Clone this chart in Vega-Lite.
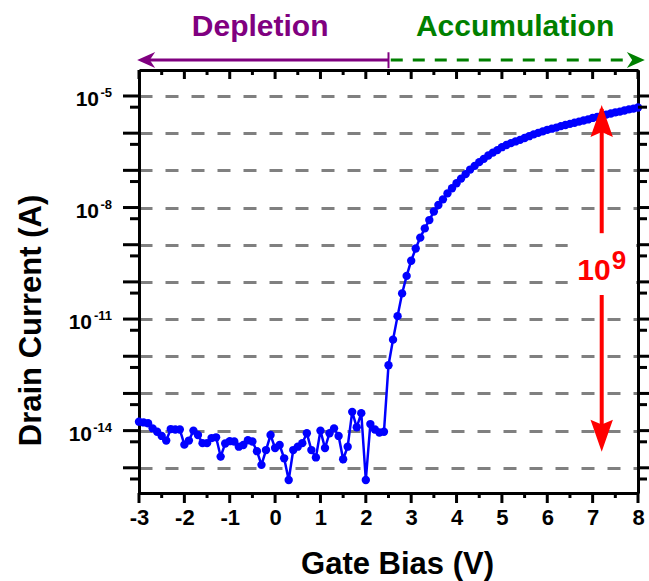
{
  "$schema": "https://vega.github.io/schema/vega-lite/v6.json",
  "width": 499,
  "height": 423,
  "autosize": {"type": "none"},
  "padding": {"left": 139, "top": 70, "right": 11, "bottom": 88},
  "background": "white",
  "config": {
    "view": {"stroke": null},
    "font": "Liberation Sans",
    "axis": {
      "domainColor": "black",
      "domainWidth": 3,
      "ticks": false,
      "labelFont": "Liberation Sans",
      "labelFontWeight": "bold",
      "labelColor": "black",
      "titleFont": "Liberation Sans",
      "titleFontWeight": "bold",
      "titleColor": "black"
    }
  },
  "datasets": {
    "iv": [
      {"v": -3.0, "i": 1.74e-14}, {"v": -2.9, "i": 1.66e-14}, {"v": -2.8, "i": 1.58e-14},
      {"v": -2.7, "i": 1.15e-14}, {"v": -2.6, "i": 9.3e-15}, {"v": -2.5, "i": 7.2e-15},
      {"v": -2.4, "i": 5.4e-15}, {"v": -2.3, "i": 1.10e-14}, {"v": -2.2, "i": 1.07e-14},
      {"v": -2.1, "i": 1.07e-14}, {"v": -2.0, "i": 4.2e-15}, {"v": -1.9, "i": 5.4e-15},
      {"v": -1.8, "i": 1.0e-14}, {"v": -1.7, "i": 7.6e-15}, {"v": -1.6, "i": 4.6e-15},
      {"v": -1.5, "i": 4.6e-15}, {"v": -1.4, "i": 6.3e-15}, {"v": -1.3, "i": 6.6e-15},
      {"v": -1.2, "i": 2.0e-15}, {"v": -1.1, "i": 4.5e-15}, {"v": -1.0, "i": 5.2e-15},
      {"v": -0.9, "i": 5.1e-15}, {"v": -0.8, "i": 3.7e-15}, {"v": -0.7, "i": 4.1e-15},
      {"v": -0.6, "i": 5.5e-15}, {"v": -0.5, "i": 5.1e-15}, {"v": -0.4, "i": 2.8e-15},
      {"v": -0.3, "i": 1.2e-15}, {"v": -0.2, "i": 3.0e-15}, {"v": -0.1, "i": 7.6e-15},
      {"v": 0.0, "i": 3.4e-15}, {"v": 0.1, "i": 4.1e-15}, {"v": 0.2, "i": 1.8e-15},
      {"v": 0.3, "i": 4.7e-16}, {"v": 0.4, "i": 3.0e-15}, {"v": 0.5, "i": 3.7e-15},
      {"v": 0.6, "i": 4.6e-15}, {"v": 0.7, "i": 8.5e-15}, {"v": 0.8, "i": 3.0e-15},
      {"v": 0.9, "i": 1.9e-15}, {"v": 1.0, "i": 1.0e-14}, {"v": 1.1, "i": 3.4e-15},
      {"v": 1.2, "i": 8.5e-15}, {"v": 1.3, "i": 1.15e-14}, {"v": 1.4, "i": 7.2e-15},
      {"v": 1.5, "i": 1.7e-15}, {"v": 1.6, "i": 3.7e-15}, {"v": 1.7, "i": 3.2e-14},
      {"v": 1.8, "i": 1.23e-14}, {"v": 1.9, "i": 2.95e-14}, {"v": 2.0, "i": 4.7e-16},
      {"v": 2.1, "i": 1.5e-14}, {"v": 2.2, "i": 1.07e-14}, {"v": 2.3, "i": 8.9e-15},
      {"v": 2.4, "i": 9.3e-15}, {"v": 2.5, "i": 5.75e-13}, {"v": 2.6, "i": 2.8e-12},
      {"v": 2.7, "i": 1.2e-11}, {"v": 2.8, "i": 4.9e-11}, {"v": 2.9, "i": 1.45e-10},
      {"v": 3.0, "i": 3.7e-10}, {"v": 3.1, "i": 7.9e-10}, {"v": 3.2, "i": 1.55e-9},
      {"v": 3.3, "i": 2.75e-9}, {"v": 3.4, "i": 4.6e-9}, {"v": 3.5, "i": 7.8e-9},
      {"v": 3.6, "i": 1.17e-8}, {"v": 3.7, "i": 1.66e-8}, {"v": 3.8, "i": 2.4e-8},
      {"v": 3.9, "i": 3.3e-8}, {"v": 4.0, "i": 4.5e-8}, {"v": 4.1, "i": 6.0e-8},
      {"v": 4.2, "i": 7.9e-8}, {"v": 4.3, "i": 1.05e-7}, {"v": 4.4, "i": 1.32e-7},
      {"v": 4.5, "i": 1.66e-7}, {"v": 4.6, "i": 2.04e-7}, {"v": 4.7, "i": 2.5e-7},
      {"v": 4.8, "i": 3.0e-7}, {"v": 4.9, "i": 3.5e-7}, {"v": 5.0, "i": 4.2e-7},
      {"v": 5.1, "i": 4.8e-7}, {"v": 5.2, "i": 5.4e-7}, {"v": 5.3, "i": 6.0e-7},
      {"v": 5.4, "i": 6.6e-7}, {"v": 5.5, "i": 7.4e-7}, {"v": 5.6, "i": 8.3e-7},
      {"v": 5.7, "i": 9.3e-7}, {"v": 5.8, "i": 1.02e-6}, {"v": 5.9, "i": 1.12e-6},
      {"v": 6.0, "i": 1.23e-6}, {"v": 6.1, "i": 1.32e-6}, {"v": 6.2, "i": 1.41e-6},
      {"v": 6.3, "i": 1.55e-6}, {"v": 6.4, "i": 1.66e-6}, {"v": 6.5, "i": 1.78e-6},
      {"v": 6.6, "i": 1.91e-6}, {"v": 6.7, "i": 2.04e-6}, {"v": 6.8, "i": 2.19e-6},
      {"v": 6.9, "i": 2.34e-6}, {"v": 7.0, "i": 2.57e-6}, {"v": 7.1, "i": 2.75e-6},
      {"v": 7.2, "i": 2.95e-6}, {"v": 7.3, "i": 3.16e-6}, {"v": 7.4, "i": 3.39e-6},
      {"v": 7.5, "i": 3.63e-6}, {"v": 7.6, "i": 3.8e-6}, {"v": 7.7, "i": 4.07e-6},
      {"v": 7.8, "i": 4.37e-6}, {"v": 7.9, "i": 4.57e-6}, {"v": 8.0, "i": 4.9e-6}
    ],
    "ylabels": [
      {"i": 1e-5, "e": "-5"},
      {"i": 1e-8, "e": "-8"},
      {"i": 1e-11, "e": "-11"},
      {"i": 1e-14, "e": "-14"}
    ],
    "xt": [
      {"v": -3, "kind": "major", "lo": 2.1e-16, "hi": 5e-5}, {"v": -2.5, "kind": "minor", "lo": 2.1e-16, "hi": 5e-5},
      {"v": -2, "kind": "major", "lo": 2.1e-16, "hi": 5e-5}, {"v": -1.5, "kind": "minor", "lo": 2.1e-16, "hi": 5e-5},
      {"v": -1, "kind": "major", "lo": 2.1e-16, "hi": 5e-5}, {"v": -0.5, "kind": "minor", "lo": 2.1e-16, "hi": 5e-5},
      {"v": 0, "kind": "major", "lo": 2.1e-16, "hi": 5e-5}, {"v": 0.5, "kind": "minor", "lo": 2.1e-16, "hi": 5e-5},
      {"v": 1, "kind": "major", "lo": 2.1e-16, "hi": 5e-5}, {"v": 1.5, "kind": "minor", "lo": 2.1e-16, "hi": 5e-5},
      {"v": 2, "kind": "major", "lo": 2.1e-16, "hi": 5e-5}, {"v": 2.5, "kind": "minor", "lo": 2.1e-16, "hi": 5e-5},
      {"v": 3, "kind": "major", "lo": 2.1e-16, "hi": 5e-5}, {"v": 3.5, "kind": "minor", "lo": 2.1e-16, "hi": 5e-5},
      {"v": 4, "kind": "major", "lo": 2.1e-16, "hi": 5e-5}, {"v": 4.5, "kind": "minor", "lo": 2.1e-16, "hi": 5e-5},
      {"v": 5, "kind": "major", "lo": 2.1e-16, "hi": 5e-5}, {"v": 5.5, "kind": "minor", "lo": 2.1e-16, "hi": 5e-5},
      {"v": 6, "kind": "major", "lo": 2.1e-16, "hi": 5e-5}, {"v": 6.5, "kind": "minor", "lo": 2.1e-16, "hi": 5e-5},
      {"v": 7, "kind": "major", "lo": 2.1e-16, "hi": 5e-5}, {"v": 7.5, "kind": "minor", "lo": 2.1e-16, "hi": 5e-5},
      {"v": 8, "kind": "major", "lo": 2.1e-16, "hi": 5e-5}
    ],
    "yt": [
      {"i": 5e-16, "kind": "minor", "left": -3, "right": 8}, {"i": 1e-15, "kind": "major", "left": -3, "right": 8},
      {"i": 5e-15, "kind": "minor", "left": -3, "right": 8}, {"i": 1e-14, "kind": "major", "left": -3, "right": 8},
      {"i": 5e-14, "kind": "minor", "left": -3, "right": 8}, {"i": 1e-13, "kind": "major", "left": -3, "right": 8},
      {"i": 5e-13, "kind": "minor", "left": -3, "right": 8}, {"i": 1e-12, "kind": "major", "left": -3, "right": 8},
      {"i": 5e-12, "kind": "minor", "left": -3, "right": 8}, {"i": 1e-11, "kind": "major", "left": -3, "right": 8},
      {"i": 5e-11, "kind": "minor", "left": -3, "right": 8}, {"i": 1e-10, "kind": "major", "left": -3, "right": 8},
      {"i": 5e-10, "kind": "minor", "left": -3, "right": 8}, {"i": 1e-9, "kind": "major", "left": -3, "right": 8},
      {"i": 5e-9, "kind": "minor", "left": -3, "right": 8}, {"i": 1e-8, "kind": "major", "left": -3, "right": 8},
      {"i": 5e-8, "kind": "minor", "left": -3, "right": 8}, {"i": 1e-7, "kind": "major", "left": -3, "right": 8},
      {"i": 5e-7, "kind": "minor", "left": -3, "right": 8}, {"i": 1e-6, "kind": "major", "left": -3, "right": 8},
      {"i": 5e-6, "kind": "minor", "left": -3, "right": 8}, {"i": 1e-5, "kind": "major", "left": -3, "right": 8}
    ]
  },
  "resolve": {"axis": {"x": "independent", "y": "independent"}},
  "layer": [
    {
      "data": {"name": "iv"},
      "mark": {"type": "line", "color": "#0000FF", "strokeWidth": 2.5},
      "encoding": {
        "x": {
          "field": "v", "type": "quantitative",
          "scale": {"domain": [-3, 8], "nice": false, "zero": false},
          "axis": {
            "orient": "bottom",
            "title": "Gate Bias (V)",
            "titleFontSize": 31,
            "titleX": 258,
            "titleY": 80,
            "titleBaseline": "alphabetic",
            "titleAnchor": null,
            "titleAlign": "center",
            "values": [-3, -2, -1, 0, 1, 2, 3, 4, 5, 6, 7, 8],
            "labelExpr": "'' + datum.value",
            "labelFontSize": 22,
            "labelPadding": 14,
            "labelFlush": false,
            "labelOverlap": false,
            "grid": false
          }
        },
        "y": {
          "field": "i", "type": "quantitative",
          "scale": {"type": "log", "domain": [2.1e-16, 5e-5], "nice": false},
          "axis": {
            "orient": "left",
            "title": "Drain Current (A)",
            "titleFontSize": 31,
            "titleAngle": 270,
            "titleX": -99,
            "titleY": 250,
            "titleAlign": "center",
            "titleAnchor": null,
            "titleBaseline": "alphabetic",
            "values": [1e-15, 1e-14, 1e-13, 1e-12, 1e-11, 1e-10, 1e-9, 1e-8, 1e-7, 1e-6, 1e-5],
            "labels": false,
            "grid": true,
            "gridColor": "#808080",
            "gridWidth": 3,
            "gridDash": [13, 13]
          }
        }
      }
    },
    {
      "data": {"name": "iv"},
      "mark": {"type": "point", "filled": true, "color": "#0000FF", "size": 70, "opacity": 1},
      "encoding": {
        "x": {
          "field": "v", "type": "quantitative",
          "axis": {"orient": "top", "title": null, "labels": false, "grid": false, "values": [-3, 8]}
        },
        "y": {
          "field": "i", "type": "quantitative",
          "axis": {"orient": "right", "title": null, "labels": false, "grid": false, "values": [1e-15, 1e-5]}
        }
      }
    },
    {
      "data": {"name": "xt"},
      "transform": [{"filter": "datum.kind == 'major'"}],
      "mark": {"type": "point", "filled": true, "opacity": 1, "color": "black", "size": 400, "shape": "M-0.15,0 L0.15,0 L0.15,1 L-0.15,1 Z"},
      "encoding": {
        "x": {"field": "v", "type": "quantitative", "axis": null},
        "y": {"field": "lo", "type": "quantitative", "axis": null}
      }
    },
    {
      "data": {"name": "xt"},
      "transform": [{"filter": "datum.kind == 'minor'"}],
      "mark": {"type": "point", "filled": true, "opacity": 1, "color": "black", "size": 100, "shape": "M-0.3,0 L0.3,0 L0.3,1 L-0.3,1 Z"},
      "encoding": {
        "x": {"field": "v", "type": "quantitative", "axis": null},
        "y": {"field": "lo", "type": "quantitative", "axis": null}
      }
    },
    {
      "data": {"name": "xt"},
      "transform": [{"filter": "datum.kind == 'major'"}],
      "mark": {"type": "point", "filled": true, "opacity": 1, "color": "black", "size": 324, "shape": "M-0.167,0 L0.167,0 L0.167,1 L-0.167,1 Z"},
      "encoding": {
        "x": {"field": "v", "type": "quantitative", "axis": null},
        "y": {"field": "hi", "type": "quantitative", "axis": null}
      }
    },
    {
      "data": {"name": "xt"},
      "transform": [{"filter": "datum.kind == 'minor'"}],
      "mark": {"type": "point", "filled": true, "opacity": 1, "color": "black", "size": 100, "shape": "M-0.3,0 L0.3,0 L0.3,1 L-0.3,1 Z"},
      "encoding": {
        "x": {"field": "v", "type": "quantitative", "axis": null},
        "y": {"field": "hi", "type": "quantitative", "axis": null}
      }
    },
    {
      "data": {"name": "yt"},
      "transform": [{"filter": "datum.kind == 'major'"}],
      "mark": {"type": "point", "filled": true, "opacity": 1, "color": "black", "size": 1024, "shape": "M0,-0.094 L-1,-0.094 L-1,0.094 L0,0.094 Z"},
      "encoding": {
        "x": {"field": "left", "type": "quantitative", "axis": null},
        "y": {"field": "i", "type": "quantitative", "axis": null}
      }
    },
    {
      "data": {"name": "yt"},
      "transform": [{"filter": "datum.kind == 'minor'"}],
      "mark": {"type": "point", "filled": true, "opacity": 1, "color": "black", "size": 324, "shape": "M0,-0.167 L-1,-0.167 L-1,0.167 L0,0.167 Z"},
      "encoding": {
        "x": {"field": "left", "type": "quantitative", "axis": null},
        "y": {"field": "i", "type": "quantitative", "axis": null}
      }
    },
    {
      "data": {"name": "yt"},
      "transform": [{"filter": "datum.kind == 'major'"}],
      "mark": {"type": "point", "filled": true, "opacity": 1, "color": "black", "size": 1024, "shape": "M0,-0.094 L1,-0.094 L1,0.094 L0,0.094 Z"},
      "encoding": {
        "x": {"field": "right", "type": "quantitative", "axis": null},
        "y": {"field": "i", "type": "quantitative", "axis": null}
      }
    },
    {
      "data": {"name": "yt"},
      "transform": [{"filter": "datum.kind == 'minor'"}],
      "mark": {"type": "point", "filled": true, "opacity": 1, "color": "black", "size": 324, "shape": "M0,-0.167 L1,-0.167 L1,0.167 L0,0.167 Z"},
      "encoding": {
        "x": {"field": "right", "type": "quantitative", "axis": null},
        "y": {"field": "i", "type": "quantitative", "axis": null}
      }
    },
    {
      "data": {"name": "ylabels"},
      "mark": {"type": "text", "color": "black", "font": "Liberation Sans", "fontWeight": "bold", "fontSize": 13, "align": "right", "baseline": "alphabetic", "dx": -27, "dy": 1},
      "encoding": {
        "x": {"datum": -3, "type": "quantitative", "axis": null},
        "y": {"field": "i", "type": "quantitative", "axis": null},
        "text": {"field": "e"}
      }
    },
    {
      "data": {"name": "ylabels"},
      "transform": [{"filter": "length(datum.e) == 2"}],
      "mark": {"type": "text", "color": "black", "font": "Liberation Sans", "fontWeight": "bold", "fontSize": 21, "align": "right", "baseline": "alphabetic", "dx": -40, "dy": 10},
      "encoding": {
        "x": {"datum": -3, "type": "quantitative", "axis": null},
        "y": {"field": "i", "type": "quantitative", "axis": null},
        "text": {"value": "10"}
      }
    },
    {
      "data": {"name": "ylabels"},
      "transform": [{"filter": "length(datum.e) == 3"}],
      "mark": {"type": "text", "color": "black", "font": "Liberation Sans", "fontWeight": "bold", "fontSize": 21, "align": "right", "baseline": "alphabetic", "dx": -47, "dy": 10},
      "encoding": {
        "x": {"datum": -3, "type": "quantitative", "axis": null},
        "y": {"field": "i", "type": "quantitative", "axis": null},
        "text": {"value": "10"}
      }
    },
    {
      "data": {"values": [{"x": 6.45, "x2": 7.96, "y": 1.7e-9, "y2": 5.4e-11}]},
      "mark": {"type": "rect", "color": "white", "opacity": 1},
      "encoding": {
        "x": {"field": "x", "type": "quantitative", "axis": null},
        "x2": {"field": "x2"},
        "y": {"field": "y", "type": "quantitative", "axis": null},
        "y2": {"field": "y2"}
      }
    },
    {
      "data": {"values": [{"x": -2.9, "x2": 2.5, "y": 9.3e-5}]},
      "mark": {"type": "rule", "color": "#800080", "strokeWidth": 3},
      "encoding": {
        "x": {"field": "x", "type": "quantitative", "axis": null},
        "x2": {"field": "x2"},
        "y": {"field": "y", "type": "quantitative", "axis": null}
      }
    },
    {
      "data": {"values": [{"x": 2.5, "y": 1.5e-4, "y2": 5.6e-5}]},
      "mark": {"type": "rule", "color": "#800080", "strokeWidth": 2},
      "encoding": {
        "x": {"field": "x", "type": "quantitative", "axis": null},
        "y": {"field": "y", "type": "quantitative", "axis": null},
        "y2": {"field": "y2"}
      }
    },
    {
      "data": {"values": [{"x": 2.55, "x2": 8.02, "y": 9.3e-5}]},
      "mark": {"type": "rule", "color": "#008000", "strokeWidth": 3, "strokeDash": [12, 10]},
      "encoding": {
        "x": {"field": "x", "type": "quantitative", "axis": null},
        "x2": {"field": "x2"},
        "y": {"field": "y", "type": "quantitative", "axis": null}
      }
    },
    {
      "data": {"values": [{"x": -3.04, "y": 9.3e-5}]},
      "mark": {"type": "point", "filled": true, "opacity": 1, "color": "#800080", "size": 324, "shape": "M0,0 L2,-0.9 L1.4,0 L2,0.9 Z"},
      "encoding": {
        "x": {"field": "x", "type": "quantitative", "axis": null},
        "y": {"field": "y", "type": "quantitative", "axis": null}
      }
    },
    {
      "data": {"values": [{"x": 8.15, "y": 9.3e-5}]},
      "mark": {"type": "point", "filled": true, "opacity": 1, "color": "#008000", "size": 324, "shape": "M0,0 L-2,-0.9 L-1.4,0 L-2,0.9 Z"},
      "encoding": {
        "x": {"field": "x", "type": "quantitative", "axis": null},
        "y": {"field": "y", "type": "quantitative", "axis": null}
      }
    },
    {
      "data": {"values": [{"x": -0.33, "y": 4.1e-4, "label": "Depletion"}]},
      "mark": {"type": "text", "color": "#800080", "font": "Liberation Sans", "fontWeight": "bold", "fontSize": 30, "align": "center", "baseline": "alphabetic"},
      "encoding": {
        "x": {"field": "x", "type": "quantitative", "axis": null},
        "y": {"field": "y", "type": "quantitative", "axis": null},
        "text": {"field": "label"}
      }
    },
    {
      "data": {"values": [{"x": 5.29, "y": 4.1e-4, "label": "Accumulation"}]},
      "mark": {"type": "text", "color": "#008000", "font": "Liberation Sans", "fontWeight": "bold", "fontSize": 30, "align": "center", "baseline": "alphabetic"},
      "encoding": {
        "x": {"field": "x", "type": "quantitative", "axis": null},
        "y": {"field": "y", "type": "quantitative", "axis": null},
        "text": {"field": "label"}
      }
    },
    {
      "data": {"values": [{"x": 7.2, "y": 4.5e-6, "y2": 2.04e-9}, {"x": 7.2, "y": 4.47e-11, "y2": 5.0e-15}]},
      "mark": {"type": "rule", "color": "#FF0000", "strokeWidth": 4},
      "encoding": {
        "x": {"field": "x", "type": "quantitative", "axis": null},
        "y": {"field": "y", "type": "quantitative", "axis": null},
        "y2": {"field": "y2"}
      }
    },
    {
      "data": {"values": [{"x": 7.2, "y": 5.75e-6}]},
      "mark": {"type": "point", "filled": true, "opacity": 1, "color": "#FF0000", "size": 1024, "shape": "M0,0 L0.7,2 L0,1.7 L-0.7,2 Z"},
      "encoding": {
        "x": {"field": "x", "type": "quantitative", "axis": null},
        "y": {"field": "y", "type": "quantitative", "axis": null}
      }
    },
    {
      "data": {"values": [{"x": 7.2, "y": 2.7e-15}]},
      "mark": {"type": "point", "filled": true, "opacity": 1, "color": "#FF0000", "size": 1024, "shape": "M0,0 L0.7,-2 L0,-1.7 L-0.7,-2 Z"},
      "encoding": {
        "x": {"field": "x", "type": "quantitative", "axis": null},
        "y": {"field": "y", "type": "quantitative", "axis": null}
      }
    },
    {
      "data": {"values": [{"x": 7.2, "y": 3.16e-10, "label": "10"}]},
      "mark": {"type": "text", "color": "#FF0000", "font": "Liberation Sans", "fontWeight": "bold", "fontSize": 30, "align": "right", "baseline": "alphabetic", "dx": 9, "dy": 17},
      "encoding": {
        "x": {"field": "x", "type": "quantitative", "axis": null},
        "y": {"field": "y", "type": "quantitative", "axis": null},
        "text": {"field": "label"}
      }
    },
    {
      "data": {"values": [{"x": 7.2, "y": 3.16e-10, "label": "9"}]},
      "mark": {"type": "text", "color": "#FF0000", "font": "Liberation Sans", "fontWeight": "bold", "fontSize": 26, "align": "left", "baseline": "alphabetic", "dx": 10, "dy": 6},
      "encoding": {
        "x": {"field": "x", "type": "quantitative", "axis": null},
        "y": {"field": "y", "type": "quantitative", "axis": null},
        "text": {"field": "label"}
      }
    }
  ]
}
